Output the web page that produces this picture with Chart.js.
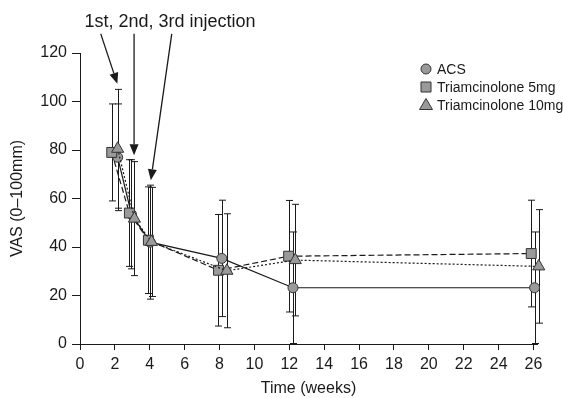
<!DOCTYPE html>
<html>
<head>
<meta charset="utf-8">
<script src="https://cdn.jsdelivr.net/npm/chart.js@4/dist/chart.umd.min.js"></script>
<style>
  html, body { margin: 0; padding: 0; background: #fff; }
  #wrap { width: 563px; height: 398px; }
</style>
</head>
<body>
<div id="wrap"><canvas id="myChart" width="563" height="398"></canvas></div>
<script>
// values (weeks are slightly jittered per group, like the original)
var weeksACS = [2.16, 2.95, 4.02, 8.13, 12.21, 26.06];
var vasACS   = [77, 53.5, 42, 35.3, 23.2, 23.2];
var sdACS    = [22, 22.5, 23.5, 24, 23, 23];

var weeks5 = [1.82, 2.83, 3.92, 7.94, 11.96, 25.87];
var vas5   = [79, 54, 42.8, 30.4, 36.2, 37.3];
var sd5    = [20, 22, 22, 23, 23, 22];

var weeks10 = [2.16, 3.12, 4.1, 8.42, 12.34, 26.3];
var vas10   = [80.5, 51.7, 42.1, 30.2, 34.6, 32];
var sd10    = [24.5, 23.5, 22.5, 23.5, 23, 23.4];

var xTicks = [0, 2, 4, 6, 8, 10, 12, 14, 16, 18, 20, 22, 24, 26];
var yTicks = [0, 20, 40, 60, 80, 100, 120];
var seriesNames = ['ACS', 'Triamcinolone 5mg', 'Triamcinolone 10mg'];

// injection arrows: [startX, startY, tipX, tipY] in data units
var arrowLabel = '1st, 2nd, 3rd injection';
var arrows = [
    [1.19, 127.9, 2.14, 107.3],
    [3.1, 127.9, 3.1, 77.8],
    [5.26, 127.9, 4.06, 67.5]
];

var FONT = '"Liberation Sans", Arial, sans-serif';
var INK = '#1a1a1a';
var MARK = '#9a9a9a';

function pts(xs, ys, sds) {
    var out = [];
    for (var i = 0; i < xs.length; i++) out.push({x: xs[i], y: ys[i], sd: sds[i]});
    return out;
}

function shape(ctx, style, x, y) {
    ctx.beginPath();
    if (style == 'circle') {
        ctx.arc(x, y, 5, 0, Math.PI * 2);
    } else if (style == 'rect') {
        ctx.rect(x - 5, y - 5, 10, 10);
    } else {
        ctx.moveTo(x, y - 6.5);
        ctx.lineTo(x + 6.5, y + 4.5);
        ctx.lineTo(x - 6.5, y + 4.5);
        ctx.closePath();
    }
    ctx.fillStyle = MARK;
    ctx.fill();
    ctx.lineWidth = 1;
    ctx.strokeStyle = '#333';
    ctx.stroke();
}

//error bars under the markers
var errorBars = {
    id: 'errorBars',
    beforeDatasetsDraw: function(chart) {
        var ctx = chart.ctx, xs = chart.scales.x, ys = chart.scales.y;
        ctx.save();
        ctx.strokeStyle = INK;
        ctx.lineWidth = 1;
        chart.data.datasets.forEach(function(ds) {
            ds.data.forEach(function(p) {
                var px = Math.round(xs.getPixelForValue(p.x)) + 0.5;
                var top = ys.getPixelForValue(p.y + p.sd);
                var bot = ys.getPixelForValue(Math.max(0, p.y - p.sd));
                ctx.beginPath();
                ctx.moveTo(px, top); ctx.lineTo(px, bot);
                ctx.moveTo(px - 3.5, top); ctx.lineTo(px + 3.5, top);
                ctx.moveTo(px - 3.5, bot); ctx.lineTo(px + 3.5, bot);
                ctx.stroke();
            });
        });
        ctx.restore();
    }
};

var extras = {
    id: 'extras',
    afterDraw: function(chart) {
        var ctx = chart.ctx, xs = chart.scales.x, ys = chart.scales.y;
        ctx.save();
        // annotation text + arrows
        ctx.fillStyle = INK;
        ctx.strokeStyle = INK;
        ctx.font = '18px ' + FONT;
        ctx.textAlign = 'center';
        ctx.textBaseline = 'middle';
        ctx.fillText(arrowLabel, 170, 22);
        ctx.lineWidth = 1.3;
        arrows.forEach(function(a) {
            var x1 = xs.getPixelForValue(a[0]), y1 = ys.getPixelForValue(a[1]);
            var x2 = xs.getPixelForValue(a[2]), y2 = ys.getPixelForValue(a[3]);
            var ang = Math.atan2(y2 - y1, x2 - x1);
            var hl = 11, hw = 4.5;
            var bx = x2 - hl * Math.cos(ang), by = y2 - hl * Math.sin(ang);
            ctx.beginPath();
            ctx.moveTo(x1, y1); ctx.lineTo(bx, by);
            ctx.stroke();
            ctx.beginPath();
            ctx.moveTo(x2, y2);
            ctx.lineTo(bx + hw * Math.sin(ang), by - hw * Math.cos(ang));
            ctx.lineTo(bx - hw * Math.sin(ang), by + hw * Math.cos(ang));
            ctx.closePath();
            ctx.fill();
        });
        // legend
        var styles = ['circle', 'rect', 'triangle'];
        ctx.font = '14px ' + FONT;
        ctx.textAlign = 'left';
        for (var i = 0; i < seriesNames.length; i++) {
            var ly = 69 + i * 18;
            shape(ctx, styles[i], 426, ly);
            ctx.fillStyle = INK;
            ctx.fillText(seriesNames[i], 437, ly + 1);
        }
        ctx.restore();
    }
};

function makeSet(label, data, style, dash, r) {
    return {
        label: label,
        data: data,
        showLine: true,
        borderColor: INK,
        borderWidth: 1.2,
        borderDash: dash,
        pointStyle: style,
        pointRadius: r,
        pointBackgroundColor: MARK,
        pointBorderColor: '#333',
        pointBorderWidth: 1,
        clip: false
    };
}

var ctx = document.getElementById('myChart').getContext('2d');
var myChart = new Chart(ctx, {
    type: 'scatter',
    data: {
        datasets: [
            makeSet(seriesNames[2], pts(weeks10, vas10, sd10), 'triangle', [2, 2], 7),
            makeSet(seriesNames[1], pts(weeks5, vas5, sd5), 'rect', [6, 3], 7),
            makeSet(seriesNames[0], pts(weeksACS, vasACS, sdACS), 'circle', [], 5)
        ]
    },
    options: {
        responsive: false,
        animation: false,
        devicePixelRatio: 1,
        layout: { padding: { top: 53, right: 26, left: 0, bottom: 0 } },
        plugins: { legend: { display: false }, tooltip: { enabled: false } },
        scales: {
            x: {
                type: 'linear',
                min: 0,
                max: 26.2,
                afterBuildTicks: function(s) { s.ticks = xTicks.map(function(v) { return {value: v}; }); },
                afterFit: function(s) { s.height = 54; },
                grid: { display: true, drawOnChartArea: false, drawTicks: true, tickLength: 6, color: INK },
                border: { display: true, color: INK, width: 1 },
                ticks: { color: INK, font: { family: FONT, size: 16 }, padding: 5, maxRotation: 0, autoSkip: false },
                title: { display: true, text: 'Time (weeks)', color: INK, font: { family: FONT, size: 16 }, padding: { top: 0, bottom: 0 } }
            },
            y: {
                min: 0,
                max: 120,
                afterBuildTicks: function(s) { s.ticks = yTicks.map(function(v) { return {value: v}; }); },
                afterFit: function(s) { s.width = 80; },
                grid: { display: true, drawOnChartArea: false, drawTicks: true, tickLength: 8, color: INK },
                border: { display: true, color: INK, width: 1 },
                ticks: { color: INK, font: { family: FONT, size: 16 }, padding: 5 },
                title: { display: true, text: 'VAS (0\u2013100mm)', color: INK, font: { family: FONT, size: 16 }, padding: 8 }
            }
        }
    },
    plugins: [errorBars, extras]
});
</script>
</body>
</html>
